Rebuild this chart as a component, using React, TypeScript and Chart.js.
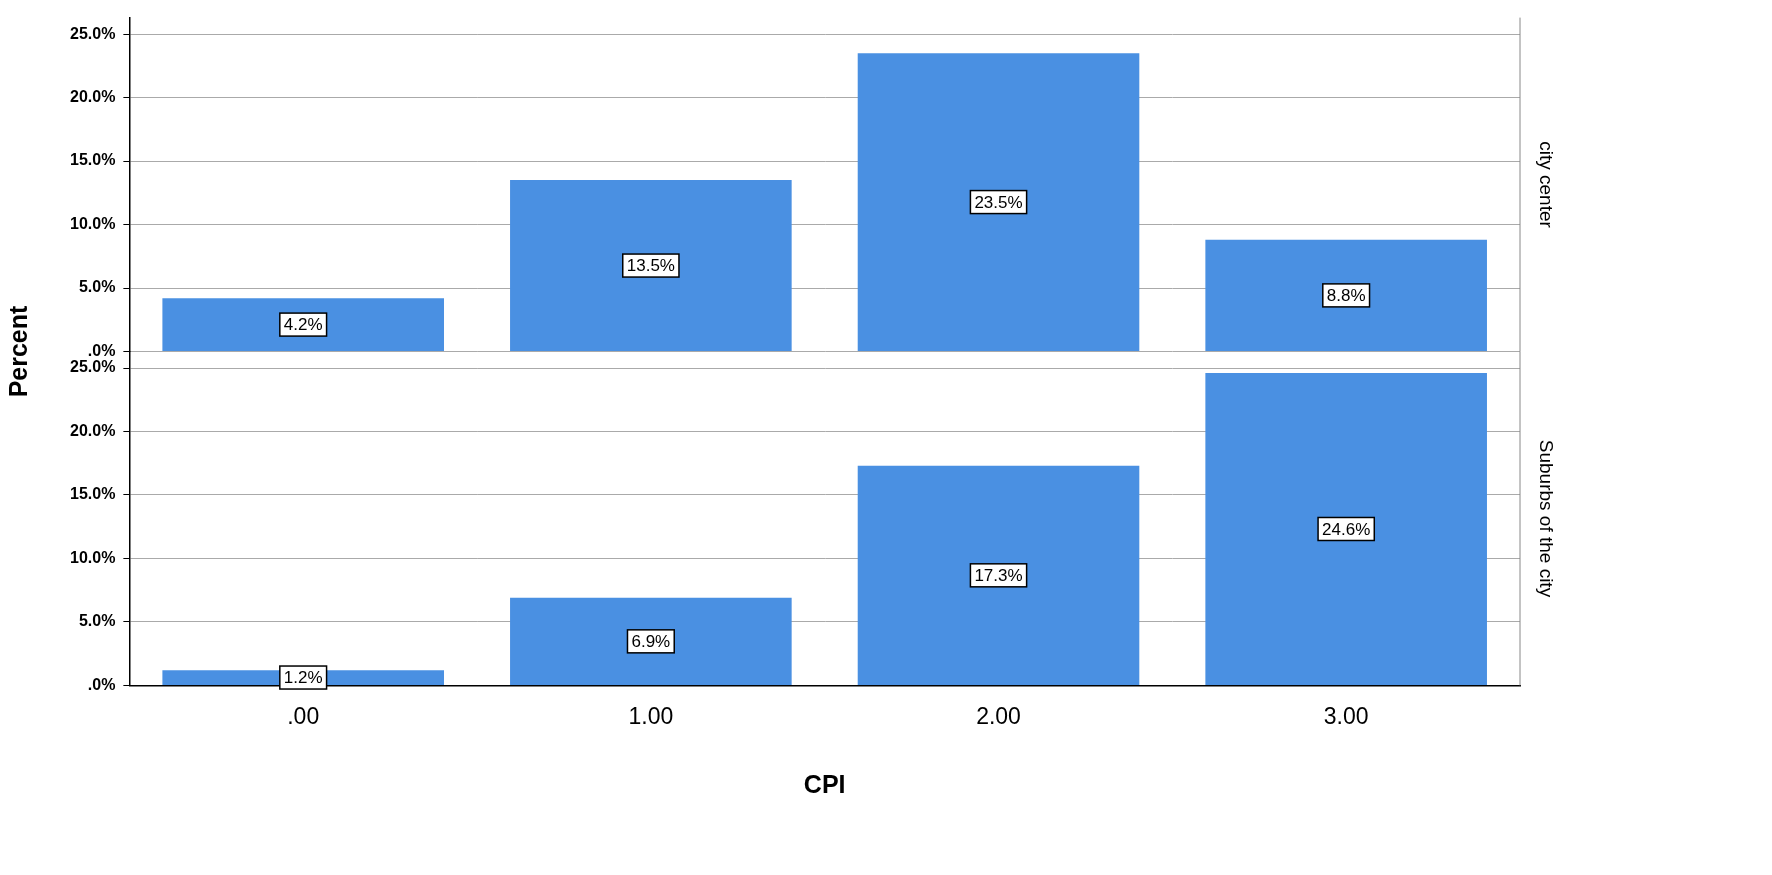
import React, { useEffect, useRef } from "react";
import { Chart, registerables } from "chart.js";
Chart.register(...registerables);

const categories = [".00", "1.00", "2.00", "3.00"];
const cityCenter = [4.2, 13.5, 23.5, 8.8];
const suburbs = [1.2, 6.9, 17.3, 24.6];
const panelLabels = ["city center", "Suburbs of the city"];
const yTicks = [0, 5, 10, 15, 20, 25];

const FONT = "'Liberation Sans', Arial, sans-serif";

const labelPlugin = {
  id: "labels",
  afterDatasetsDraw(chart: any) {
    const ctx = chart.ctx;
    ctx.save();
    ctx.font = `17px ${FONT}`;
    ctx.textAlign = "center";
    ctx.textBaseline = "middle";
    chart.data.datasets.forEach((ds: any, di: number) => {
      const meta = chart.getDatasetMeta(di);
      meta.data.forEach((bar: any, i: number) => {
        const v = ds.data[i];
        const txt = v.toFixed(1) + "%";
        const y = (bar.y + bar.base) / 2;
        const w = ctx.measureText(txt).width + 8;
        const h = 23;
        ctx.fillStyle = "#fff";
        ctx.fillRect(bar.x - w / 2, y - h / 2, w, h);
        ctx.strokeStyle = "#000";
        ctx.lineWidth = 1.5;
        ctx.strokeRect(bar.x - w / 2, y - h / 2, w, h);
        ctx.fillStyle = "#000";
        ctx.fillText(txt, bar.x, y + 1);
      });
    });
    const a = chart.chartArea;
    const yt = chart.scales.yTop, yb = chart.scales.yBottom;
    ctx.font = `19px ${FONT}`;
    [[yt, panelLabels[0]], [yb, panelLabels[1]]].forEach(([s, t]: any) => {
      ctx.save();
      ctx.translate(a.right + 25, (s.top + s.bottom) / 2);
      ctx.rotate(Math.PI / 2);
      ctx.fillText(t, 0, 0);
      ctx.restore();
    });
    ctx.strokeStyle = "#888";
    ctx.lineWidth = 1;
    ctx.beginPath();
    ctx.moveTo(a.right, a.top);
    ctx.lineTo(a.right, a.bottom);
    ctx.stroke();
    ctx.font = `bold 25px ${FONT}`;
    ctx.save();
    ctx.translate(20, (a.top + a.bottom) / 2);
    ctx.rotate(-Math.PI / 2);
    ctx.fillText("Percent", 0, 0);
    ctx.restore();
    ctx.restore();
  },
};

export default function App() {
  const ref = useRef<HTMLCanvasElement>(null);
  useEffect(() => {
    const yScale = (stackWeight: number) => ({
      type: "linear" as const,
      stack: "panels",
      stackWeight,
      min: 0,
      max: 26.3,
      afterBuildTicks: (s: any) => {
        s.ticks = yTicks.map((v) => ({ value: v }));
      },
      ticks: {
        color: "#000",
        font: { family: FONT, size: 16, weight: "bold" as const },
        callback: (v: any) => (v === 0 ? ".0%" : Number(v).toFixed(1) + "%"),
        padding: 8,
      },
      grid: { color: "#aaa", drawTicks: true, tickLength: 6, tickColor: "#000" },
      border: { color: "#000", width: 1.5 },
    });
    const chart = new Chart(ref.current!, {
      type: "bar",
      data: {
        labels: categories,
        datasets: [
          { data: suburbs, yAxisID: "yBottom", backgroundColor: "#4a90e2", grouped: false, barPercentage: 0.81, categoryPercentage: 1 } as any,
          { data: cityCenter, yAxisID: "yTop", backgroundColor: "#4a90e2", grouped: false, barPercentage: 0.81, categoryPercentage: 1 } as any,
        ],
      },
      options: {
        animation: false,
        responsive: false,
        layout: { padding: { left: 62, right: 252, top: 10, bottom: 70 } },
        plugins: { legend: { display: false }, tooltip: { enabled: false } },
        scales: {
          x: {
            ticks: { color: "#000", font: { family: FONT, size: 23 }, padding: 10 },
            grid: { display: false },
            border: { color: "#000", width: 1.5 },
            title: { display: true, text: "CPI", color: "#000", font: { family: FONT, size: 25, weight: "bold" }, padding: { top: 30 } },
          },
          yBottom: yScale(1),
          yTop: yScale(1),
        } as any,
      },
      plugins: [labelPlugin],
    });
    return () => chart.destroy();
  }, []);
  return (
    <div style={{ position: "fixed", left: 0, top: 0, background: "#fff" }}>
      <canvas ref={ref} width={1772} height={875} style={{ width: 1772, height: 875 }} />
    </div>
  );
}
